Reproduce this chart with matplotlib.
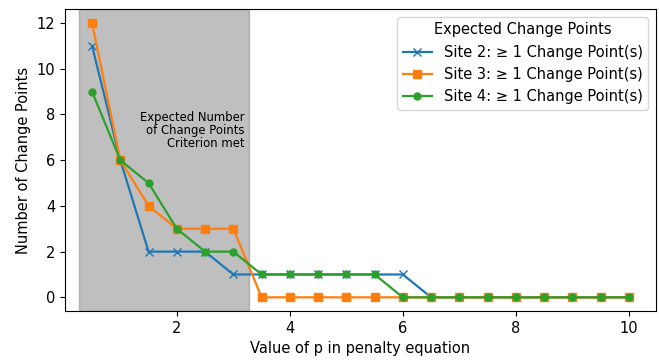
import matplotlib
matplotlib.use("Agg")
import matplotlib.pyplot as plt
import numpy as np

# penalty values and change point counts per site
p_values = np.arange(0.5, 10.01, 0.5)
site2 = [11, 6, 2, 2, 2, 1, 1, 1, 1, 1, 1, 1, 0, 0, 0, 0, 0, 0, 0, 0]
site3 = [12, 6, 4, 3, 3, 3, 0, 0, 0, 0, 0, 0, 0, 0, 0, 0, 0, 0, 0, 0]
site4 = [9, 6, 5, 3, 2, 2, 1, 1, 1, 1, 1, 0, 0, 0, 0, 0, 0, 0, 0, 0]

plt.rcParams['font.size'] = 10.5
plt.rcParams['lines.linewidth'] = 1.6

fig = plt.figure(figsize=(6.59, 3.6), dpi=100)
ax = fig.add_subplot(111)
fig.subplots_adjust(left=0.099, right=0.995, top=0.974, bottom=0.136)

# shaded region where criterion is met
ax.axvspan(0.26, 3.27, color='gray', alpha=0.5)
ax.text(3.2, 7.3, "Expected Number\nof Change Points\nCriterion met",
        ha='right', va='center', fontsize=8.4, linespacing=1.0)

ax.plot(p_values, site2, marker='x', markersize=5.5, color='tab:blue',
        label="Site 2: \u2265 1 Change Point(s)")
ax.plot(p_values, site3, marker='s', markersize=5.5, color='tab:orange',
        label="Site 3: \u2265 1 Change Point(s)")
ax.plot(p_values, site4, marker='o', markersize=5, color='tab:green',
        label="Site 4: \u2265 1 Change Point(s)")

ax.set_xlim(0.025, 10.475)
ax.set_ylim(-0.6, 12.6)
ax.set_xticks([2, 4, 6, 8, 10])
ax.set_yticks(range(0, 13, 2))
ax.set_xlabel("Value of p in penalty equation")
ax.set_ylabel("Number of Change Points")
ax.legend(title="Expected Change Points", loc='upper right',
          title_fontsize=10.5, fontsize=10.5)

fig.savefig("out.png", dpi=100)
